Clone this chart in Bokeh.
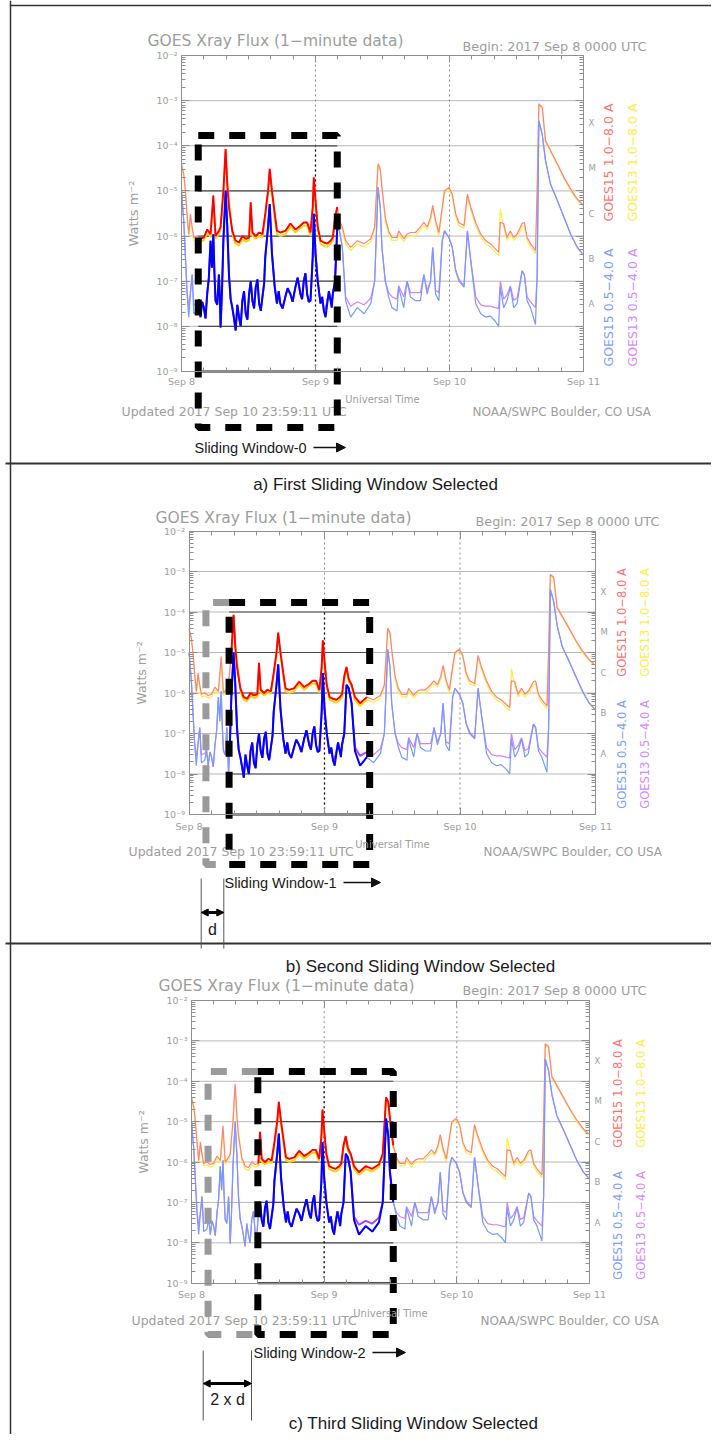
import math
from datetime import datetime, timezone

from bokeh.plotting import figure
from bokeh.models import Range1d, LogScale, LinearAxis, FixedTicker, Arrow, NormalHead
from bokeh.core.properties import value
from bokeh.embed import file_html
from bokeh.resources import INLINE

# ---------------------------------------------------------------- data
# hours after 2017 Sep 8 00:00 UTC (long channel samples)
hours = [0.0, 0.4, 0.7, 1.0, 1.3, 1.6, 1.9, 2.2, 2.8, 3.4,
         4.0, 4.6, 5.2, 5.7, 6.1, 6.7, 7.0, 7.5, 7.9, 8.2,
         8.5, 9.1, 9.7, 10.3, 10.9, 11.5, 12.1, 12.4, 12.7, 13.3,
         13.9, 14.5, 15.0, 15.5, 15.8, 16.2, 16.7, 17.1, 17.7, 18.6,
         19.5, 20.4, 21.3, 21.9, 22.5, 23.1, 23.5, 23.7, 24.0, 24.4,
         24.9, 25.5, 26.1, 26.7, 27.1, 27.5, 27.9, 28.3, 28.8, 29.4,
         30.3, 31.5, 32.7, 33.9, 34.6, 35.2, 35.6, 35.9, 36.5, 37.1,
         37.7, 38.6, 38.9, 39.8, 40.4, 41.0, 41.9, 42.8, 43.4, 44.0,
         44.6, 45.0, 45.5, 46.1, 46.7, 47.1, 47.9, 48.5, 49.1, 49.7,
         50.6, 51.2, 51.8, 52.7, 53.6, 54.5, 55.3, 56.2, 56.8, 57.1,
         57.7, 58.3, 58.9, 59.5, 60.1, 61.0, 61.4, 61.9, 62.5, 63.4,
         63.7, 64.0, 64.6, 65.2, 66.1, 67.3, 68.5, 69.7, 70.9, 71.8]

# GOES15 1.0-8.0 A  (W m^-2)
goes15_long = [3.9e-5, 2.4e-5, 1.0e-5, 3.1e-6, 1.1e-6, 3.1e-6, 1.6e-6, 9.3e-7, 1.0e-6, 8.7e-7,
               9.3e-7, 1.4e-6, 1.1e-6, 7.9e-6, 1.0e-6, 1.3e-6, 1.6e-6, 1.0e-5, 8.5e-5, 1.4e-5,
               4.4e-6, 1.3e-6, 7.9e-7, 7.2e-7, 1.0e-6, 8.7e-7, 9.3e-7, 5.6e-6, 1.2e-6, 1.0e-6,
               1.2e-6, 1.1e-6, 3.1e-6, 1.0e-5, 3.1e-5, 1.0e-5, 3.1e-6, 1.3e-6, 1.2e-6, 1.3e-6,
               1.9e-6, 1.4e-6, 1.7e-6, 2.0e-6, 2.0e-6, 1.2e-6, 4.4e-6, 2.0e-5, 6.2e-6, 1.6e-6,
               7.9e-7, 7.2e-7, 6.8e-7, 7.9e-7, 9.3e-7, 2.6e-6, 4.4e-6, 2.2e-6, 1.6e-6, 7.9e-7,
               5.6e-7, 7.9e-7, 6.8e-7, 8.7e-7, 1.6e-6, 4.0e-5, 3.1e-5, 1.2e-5, 2.6e-6, 1.3e-6,
               9.3e-7, 9.3e-7, 1.3e-6, 8.7e-7, 1.1e-6, 1.2e-6, 1.2e-6, 1.6e-6, 2.0e-6, 1.6e-6,
               2.6e-6, 4.8e-6, 2.2e-6, 1.2e-6, 4.4e-6, 1.0e-5, 1.2e-5, 8.5e-6, 3.1e-6, 2.0e-6,
               1.7e-6, 8.5e-6, 4.4e-6, 2.0e-6, 1.1e-6, 7.9e-7, 6.8e-7, 5.2e-7, 4.4e-7, 2.0e-6,
               1.9e-6, 9.3e-7, 1.3e-6, 9.3e-7, 1.1e-6, 1.9e-6, 2.0e-6, 9.3e-7, 6.8e-7, 4.8e-7,
               1.0e-5, 8.5e-4, 7.2e-4, 1.3e-4, 7.9e-5, 4.0e-5, 2.0e-5, 1.1e-5, 6.6e-6, 5.1e-6]

# GOES13 1.0-8.0 A
goes13_long = [3.5e-5, 2.1e-5, 8.9e-6, 2.6e-6, 9.6e-7, 2.4e-6, 1.4e-6, 8.0e-7, 8.6e-7, 7.5e-7,
               8.0e-7, 1.2e-6, 9.5e-7, 5.5e-6, 8.7e-7, 1.1e-6, 1.4e-6, 9.0e-6, 8.0e-5, 1.5e-5,
               6.0e-6, 1.1e-6, 6.7e-7, 6.2e-7, 8.6e-7, 7.5e-7, 8.0e-7, 4.2e-6, 1.0e-6, 8.7e-7,
               1.0e-6, 9.5e-7, 2.7e-6, 8.9e-6, 2.8e-5, 9.2e-6, 2.7e-6, 1.1e-6, 1.0e-6, 1.1e-6,
               1.6e-6, 1.2e-6, 1.5e-6, 1.7e-6, 1.7e-6, 1.0e-6, 3.8e-6, 1.8e-5, 5.6e-6, 1.4e-6,
               6.7e-7, 6.1e-7, 5.8e-7, 6.7e-7, 8.0e-7, 2.2e-6, 3.9e-6, 1.9e-6, 1.4e-6, 6.7e-7,
               4.8e-7, 6.7e-7, 5.8e-7, 7.5e-7, 1.4e-6, 3.6e-5, 2.8e-5, 1.1e-5, 2.2e-6, 1.1e-6,
               8.0e-7, 8.0e-7, 1.1e-6, 7.5e-7, 9.5e-7, 1.0e-6, 1.0e-6, 1.4e-6, 1.7e-6, 1.4e-6,
               2.2e-6, 4.2e-6, 1.9e-6, 1.0e-6, 3.8e-6, 8.9e-6, 1.1e-5, 7.6e-6, 2.7e-6, 1.7e-6,
               1.5e-6, 7.6e-6, 3.8e-6, 1.7e-6, 9.5e-7, 6.7e-7, 5.8e-7, 4.4e-7, 3.7e-7, 4.0e-6,
               1.6e-6, 8.0e-7, 1.1e-6, 8.0e-7, 9.5e-7, 1.6e-6, 1.7e-6, 8.0e-7, 5.8e-7, 4.1e-7,
               8.9e-6, 8.0e-4, 6.8e-4, 1.2e-4, 7.4e-5, 3.8e-5, 1.9e-5, 1.0e-5, 6.2e-6, 4.8e-6]

# hours of the short channel samples
short_hours = [0.0, 0.4, 0.7, 1.0, 1.3, 1.6, 1.9, 2.2, 2.8, 3.1,
               3.4, 3.7, 4.0, 4.3, 4.6, 4.9, 5.2, 5.45, 5.7, 5.9,
               6.1, 6.4, 6.7, 6.85, 7.0, 7.25, 7.5, 7.9, 8.2, 8.5,
               8.8, 9.1, 9.4, 9.7, 10.0, 10.3, 10.6, 10.9, 11.2, 11.5,
               11.8, 12.1, 12.4, 12.7, 13.0, 13.3, 13.6, 13.9, 14.2, 14.5,
               14.8, 15.0, 15.5, 15.8, 16.2, 16.7, 17.1, 17.4, 17.7, 18.1,
               18.6, 19.0, 19.5, 19.9, 20.4, 20.8, 21.3, 21.6, 21.9, 22.2,
               22.5, 22.8, 23.1, 23.5, 23.7, 24.0, 24.4, 24.9, 25.2, 25.5,
               25.8, 26.1, 26.4, 26.7, 26.9, 27.1, 27.5, 27.9, 28.3, 28.8,
               29.4, 30.3, 31.5, 32.7, 33.9, 34.6, 35.2, 35.6, 35.9, 36.5,
               37.1, 37.7, 38.6, 38.9, 39.8, 40.4, 41.0, 41.9, 42.8, 43.4,
               44.0, 44.6, 45.0, 45.5, 46.1, 46.7, 47.1, 47.9, 48.5, 49.1,
               49.7, 50.6, 51.2, 51.8, 52.7, 53.6, 54.5, 55.3, 56.2, 56.8,
               57.1, 57.7, 58.3, 58.9, 59.5, 60.1, 61.0, 61.4, 61.9, 62.5,
               63.4, 63.7, 64.0, 64.6, 65.2, 66.1, 67.3, 68.5, 69.7, 70.9,
               71.8]

# GOES15 0.5-4.0 A
goes15_short = [1.0e-5, 2.2e-6, 3.4e-7, 5.2e-8, 1.6e-8, 5.2e-8, 1.4e-7, 1.9e-8, 2.2e-8, 4.0e-8,
                1.6e-8, 3.5e-8, 2.6e-8, 1.5e-8, 5.2e-8, 1.2e-7, 7.9e-7, 2.0e-7, 1.1e-6, 1.5e-7,
                3.7e-8, 3.0e-8, 1.4e-7, 5.0e-8, 9.5e-9, 6.0e-8, 7.9e-7, 1.0e-5, 1.6e-6, 1.4e-7,
                4.0e-8, 2.6e-8, 1.5e-8, 8.1e-9, 3.0e-8, 1.6e-8, 1.0e-8, 3.7e-8, 6.0e-8, 1.9e-8,
                1.4e-8, 5.2e-8, 1.0e-7, 3.7e-8, 2.5e-8, 7.4e-8, 1.1e-7, 3.2e-8, 2.2e-8, 4.5e-8,
                9.0e-8, 3.4e-7, 1.6e-6, 5.1e-6, 4.1e-7, 7.4e-8, 3.2e-8, 6.0e-8, 3.2e-8, 2.5e-8,
                4.5e-8, 7.0e-8, 5.2e-8, 3.5e-8, 7.4e-8, 1.2e-7, 5.2e-8, 4.0e-8, 1.0e-7, 1.5e-7,
                5.2e-8, 3.5e-8, 3.7e-8, 3.4e-7, 3.1e-6, 4.1e-7, 1.0e-7, 3.2e-8, 4.5e-8, 2.2e-8,
                1.6e-8, 3.2e-8, 6.0e-8, 3.7e-8, 2.6e-8, 5.2e-8, 1.0e-7, 1.6e-6, 1.3e-6, 5.6e-7,
                3.7e-8, 1.6e-8, 2.6e-8, 1.9e-8, 3.2e-8, 1.0e-7, 1.2e-5, 4.4e-6, 5.6e-7, 1.0e-7,
                4.5e-8, 2.6e-8, 2.2e-8, 7.4e-8, 2.6e-8, 1.0e-7, 4.5e-8, 3.7e-8, 3.7e-8, 1.4e-7,
                5.2e-8, 1.0e-7, 5.6e-7, 5.2e-8, 3.7e-8, 7.9e-7, 1.3e-6, 9.3e-7, 5.6e-7, 1.7e-7,
                1.0e-7, 7.4e-8, 1.3e-6, 2.9e-7, 3.2e-8, 1.9e-8, 1.6e-8, 1.7e-8, 1.3e-8, 1.0e-8,
                7.4e-8, 2.6e-8, 3.7e-8, 7.4e-8, 2.6e-8, 3.2e-8, 1.7e-7, 1.4e-7, 3.7e-8, 2.6e-8,
                1.1e-8, 1.4e-7, 3.6e-4, 1.8e-4, 4.7e-5, 1.4e-5, 6.2e-6, 2.6e-6, 1.1e-6, 5.6e-7,
                4.1e-7]

# GOES13 0.5-4.0 A
goes13_short = [1.0e-5, 2.2e-6, 3.6e-7, 6.0e-8, 2.6e-8, 5.8e-8, 1.4e-7, 3.0e-8, 3.2e-8, 4.0e-8,
                1.6e-8, 3.5e-8, 2.6e-8, 1.5e-8, 5.2e-8, 1.2e-7, 7.9e-7, 2.0e-7, 1.1e-6, 1.5e-7,
                3.7e-8, 3.0e-8, 1.4e-7, 5.0e-8, 9.5e-9, 6.0e-8, 7.9e-7, 1.0e-5, 1.6e-6, 1.4e-7,
                4.0e-8, 2.6e-8, 1.5e-8, 8.1e-9, 3.0e-8, 1.6e-8, 1.0e-8, 3.7e-8, 6.0e-8, 1.9e-8,
                1.4e-8, 5.2e-8, 1.0e-7, 3.7e-8, 2.5e-8, 7.4e-8, 1.1e-7, 3.2e-8, 2.2e-8, 4.5e-8,
                9.0e-8, 3.4e-7, 1.6e-6, 5.1e-6, 4.1e-7, 7.4e-8, 3.2e-8, 6.0e-8, 3.2e-8, 2.5e-8,
                4.5e-8, 7.0e-8, 5.2e-8, 3.5e-8, 7.4e-8, 1.2e-7, 5.2e-8, 4.0e-8, 1.0e-7, 1.5e-7,
                5.2e-8, 3.5e-8, 3.7e-8, 3.4e-7, 3.1e-6, 4.1e-7, 1.0e-7, 3.2e-8, 4.5e-8, 2.2e-8,
                2.4e-8, 3.6e-8, 6.0e-8, 3.9e-8, 3.2e-8, 5.2e-8, 1.0e-7, 1.6e-6, 1.3e-6, 5.6e-7,
                4.5e-8, 2.8e-8, 3.5e-8, 3.0e-8, 4.2e-8, 1.0e-7, 1.2e-5, 4.4e-6, 5.6e-7, 1.0e-7,
                5.6e-8, 4.5e-8, 4.0e-8, 7.9e-8, 4.5e-8, 1.0e-7, 5.6e-8, 5.6e-8, 5.6e-8, 1.4e-7,
                6.3e-8, 1.0e-7, 5.6e-7, 6.3e-8, 5.6e-8, 7.9e-7, 1.3e-6, 9.3e-7, 5.6e-7, 1.8e-7,
                1.1e-7, 7.9e-8, 1.3e-6, 2.9e-7, 4.5e-8, 3.0e-8, 2.8e-8, 2.8e-8, 2.6e-8, 2.5e-8,
                1.0e-7, 4.0e-8, 5.0e-8, 7.9e-8, 3.8e-8, 4.2e-8, 1.7e-7, 1.4e-7, 4.5e-8, 3.5e-8,
                2.6e-8, 1.4e-7, 3.6e-4, 1.8e-4, 4.7e-5, 1.4e-5, 6.2e-6, 2.6e-6, 1.1e-6, 5.6e-7,
                4.1e-7]

day_labels = ["Sep 8", "Sep 9", "Sep 10", "Sep 11"]
decade_values = [1e-9, 1e-8, 1e-7, 1e-6, 1e-5, 1e-4, 1e-3, 1e-2]
decade_labels = ["10\u207b\u2079", "10\u207b\u2078", "10\u207b\u2077", "10\u207b\u2076",
                 "10\u207b\u2075", "10\u207b\u2074", "10\u207b\u00b3", "10\u207b\u00b2"]
grid_values = [1e-8, 1e-7, 1e-6, 1e-5, 1e-4, 1e-3]
window_grid_values = [1e-8, 1e-7, 1e-6, 1e-5, 1e-4]
class_values = [3.16e-8, 3.16e-7, 3.16e-6, 3.16e-5, 3.16e-4]
class_labels = ["A", "B", "C", "M", "X"]

window_hours = [(3.0, 27.9), (7.1, 32.0), (12.0, 36.5)]
window_names = ["Sliding Window-0", "Sliding Window-1", "Sliding Window-2"]
captions = ["a) First Sliding Window Selected", "b) Second Sliding Window Selected",
            "c) Third Sliding Window Selected"]
title_text = "GOES Xray Flux (1\u2212minute data)"
begin_text = "Begin:  2017 Sep 8 0000 UTC"
updated_text = "Updated 2017 Sep 10 23:59:11 UTC"
noaa_text = "NOAA/SWPC Boulder, CO USA"
legend_texts = ["GOES15 1.0\u22128.0 A", "GOES13 1.0\u22128.0 A",
                "GOES15 0.5\u22124.0 A", "GOES13 0.5\u22124.0 A"]

# ---------------------------------------------------------------- layout
W, H = 711, 1434
XMIN, XMAX = 0, W
YMIN, YMAX = 0, H

T0 = datetime(2017, 9, 8, tzinfo=timezone.utc).timestamp() * 1000.0
HOUR = 3600000.0
DAY = 24 * HOUR
T3 = T0 + 3 * DAY


def ms(h):
    return T0 + h * HOUR


panels = [
    dict(x0=181, x3=583, yt=55, yb=371, title=(147, 40), begin=(462, 46),
         updated=(121, 411), noaa=(472, 411), leg=(608, 632, 162, 307, "12.5px"),
         ylab="13px", sep_standoff=4, box=(135, 427), wlabel=(194, 447), warrow=(313, 345),
         caption=(375, 484), marker=None),
    dict(x0=188.5, x3=595, yt=530.5, yb=814, title=(155, 517), begin=(475, 521),
         updated=(128, 851), noaa=(483, 851), leg=(621, 644, 622, 754, "11.5px"),
         ylab="12.5px", sep_standoff=6, box=(602, 864), wlabel=(224, 882), warrow=(343, 380),
         caption=(420, 966),
         marker=dict(xl=200.7, xr=223.3, y0=878, y1=948, ya=912, text="d", lx=212, ly=929)),
    dict(x0=191, x3=589, yt=1000, yb=1282.7, title=(158, 985), begin=(462, 990),
         updated=(131, 1320), noaa=(480, 1320), leg=(617, 640, 1093, 1225, "11.5px"),
         ylab="12.5px", sep_standoff=6, box=(1071, 1334), wlabel=(253, 1352), warrow=(372, 405),
         caption=(413, 1423),
         marker=dict(xl=202.7, xr=251, y0=1350, y1=1420, ya=1383, text="2 x d", lx=227, ly=1399)),
]

FONT = "DejaVu Sans"
CAPF = "Liberation Sans"
GREY = "#9d9d9d"
AXC = "#8f8f8f"

xr, yr, ysc = {}, {}, {}
for i, L in enumerate(panels):
    k = 3 * DAY / (L["x3"] - L["x0"])
    xr[f"t{i}"] = Range1d(T0 + (XMIN - L["x0"]) * k, T0 + (XMAX - L["x0"]) * k)
    d = 7.0 / (L["yb"] - L["yt"])
    yr[f"f{i}"] = Range1d(10 ** (-9 - (YMAX - L["yb"]) * d), 10 ** (-2 + (L["yt"] - YMIN) * d))
    ysc[f"f{i}"] = LogScale()

p = figure(width=W, height=H, x_range=Range1d(XMIN, XMAX), y_range=Range1d(YMAX, YMIN),
           output_backend="svg", toolbar_location=None, x_axis_location=None,
           y_axis_location=None, min_border=0, outline_line_color=None,
           extra_x_ranges=xr, extra_y_ranges=yr, extra_y_scales=ysc)
p.grid.visible = False
p.background_fill_color = "white"
p.border_fill_color = "white"


def txt(x, y, s, size, color=GREY, align="left", font=FONT, angle=0.0, style="normal"):
    p.text(x=[x], y=[y], text=[s], text_font=value(font), text_font_size=size,
           text_color=color, text_align=align, text_baseline="middle", angle=angle,
           text_font_style=style)


# page frame
p.segment(x0=[10, 10, 5, 5], y0=[0, 5, 463, 943], x1=[10, 727, 727, 727], y1=[1434, 5, 463, 943],
          line_color="#333333", line_width=[1.5, 1.5, 2, 2])

minor_log = [m * v for v in decade_values[:-1] for m in (2, 3, 4, 5, 6, 7, 8, 9)]
day_ticks = [T0 + j * DAY for j in range(4)]
minor_time = [T0 + h * HOUR for h in range(4, 72, 4) if h % 24]

series = [
    (hours, goes13_long, "#ffee40", "#ffd200", 1.2, 1.8),
    (hours, goes15_long, "#ff8080", "#ff0000", 1.2, 1.9),
    (short_hours, goes13_short, "#d47eff", "#b040ff", 1.2, 1.9),
    (short_hours, goes15_short, "#769aff", "#0000ff", 1.2, 2.0),
]
legend_colors = ["#ff7070", "#ffec45", "#7d9dff", "#d488ff"]

for i, L in enumerate(panels):
    xn, yn = f"t{i}", f"f{i}"
    g = dict(x_range_name=xn, y_range_name=yn)
    ws_h, we_h = window_hours[i]
    ws, we = ms(ws_h), ms(we_h)

    # grid lines and day separators
    p.segment(x0=[T0] * len(grid_values), x1=[T3] * len(grid_values), y0=grid_values,
              y1=grid_values, line_color="#b9b9b9", line_width=1, **g)
    p.segment(x0=day_ticks[1:3], x1=day_ticks[1:3], y0=[1e-9] * 2, y1=[1e-2] * 2,
              line_color="#8a8a8a", line_dash="2 3", line_width=1, **g)
    # contrast-enhanced window region
    p.segment(x0=[ws] * len(window_grid_values), x1=[we] * len(window_grid_values),
              y0=window_grid_values, y1=window_grid_values, line_color="#4a4a4a",
              line_width=1.2, **g)
    for dt in day_ticks[1:3]:
        if ws < dt < we:
            p.segment(x0=[dt], x1=[dt], y0=[1e-9], y1=[1e-4], line_color="#111111",
                      line_dash="2 3", line_width=1.3, **g)

    # data
    for ts, vs, faded, vivid, wf, wv in series:
        tms = [ms(h) for h in ts]
        p.line(x=tms, y=vs, line_color=faded, line_width=wf, **g)
        inside = [j for j, h in enumerate(ts) if ws_h <= h <= we_h]
        p.line(x=[tms[j] for j in inside], y=[vs[j] for j in inside], line_color=vivid,
               line_width=wv, **g)

    # axes
    tick_style = dict(axis_line_color=AXC, major_tick_line_color=AXC,
                      minor_tick_line_color=AXC, major_label_text_color=GREY,
                      major_label_text_font=FONT, major_label_text_font_size="9.5px")
    left = LinearAxis(fixed_location=T0, bounds=(1e-9, 1e-2),
                      ticker=FixedTicker(ticks=decade_values, minor_ticks=minor_log),
                      major_label_overrides=dict(zip(decade_values, decade_labels)),
                      major_tick_in=8, major_tick_out=0, minor_tick_in=4, minor_tick_out=0,
                      major_label_standoff=4, axis_label="Watts m\u207b\u00b2",
                      axis_label_standoff=13, axis_label_text_font=FONT,
                      axis_label_text_font_size=L["ylab"], axis_label_text_color=GREY,
                      axis_label_text_font_style="normal", **tick_style, **g)
    p.add_layout(left, "left")
    right = LinearAxis(fixed_location=T3, bounds=(1e-9, 1e-2),
                       ticker=FixedTicker(ticks=decade_values, minor_ticks=minor_log),
                       major_tick_in=8, major_tick_out=0, minor_tick_in=4, minor_tick_out=0,
                       **dict(tick_style, major_label_text_color=None), **g)
    p.add_layout(right, "right")
    bottom = LinearAxis(fixed_location=1e-9, bounds=(T0, T3),
                        ticker=FixedTicker(ticks=day_ticks, minor_ticks=minor_time),
                        major_label_overrides=dict(zip(day_ticks, day_labels)),
                        major_tick_in=7, major_tick_out=0, minor_tick_in=4, minor_tick_out=0,
                        major_label_standoff=L["sep_standoff"], axis_label="Universal Time",
                        axis_label_standoff=4, axis_label_text_font=FONT,
                        axis_label_text_font_size="10px", axis_label_text_color=GREY,
                        axis_label_text_font_style="normal", **tick_style, **g)
    p.add_layout(bottom, "below")
    top = LinearAxis(fixed_location=1e-2, bounds=(T0, T3),
                     ticker=FixedTicker(ticks=day_ticks, minor_ticks=minor_time),
                     major_tick_in=7, major_tick_out=0, minor_tick_in=4, minor_tick_out=0,
                     **dict(tick_style, major_label_text_color=None), **g)
    p.add_layout(top, "above")
    # window part of the bottom axis is darker
    p.segment(x0=[ws], x1=[we], y0=[1e-9], y1=[1e-9], line_color="#111111", line_width=2, **g)

    # class letters
    p.text(x=[T3] * 5, y=class_values, text=class_labels, x_offset=5,
           text_font=value(FONT), text_font_size="8.5px", text_color=GREY,
           text_baseline="middle", **g)

    # texts around the plot
    txt(L["title"][0], L["title"][1], title_text, "15.5px")
    txt(L["begin"][0], L["begin"][1], begin_text, "12.8px")
    txt(L["updated"][0], L["updated"][1], updated_text, "12.5px")
    txt(L["noaa"][0], L["noaa"][1], noaa_text, "12px")
    x15, x13, ylong, yshort, lsize = L["leg"]
    for (lx, ly), s, c in zip([(x15, ylong), (x13, ylong), (x15, yshort), (x13, yshort)],
                              legend_texts, legend_colors):
        txt(lx, ly, s, lsize, color=c, align="center", angle=math.pi / 2)

    # sliding window boxes
    top_y, bot_y = L["box"]
    if i > 0:
        g0 = ms(window_hours[0][0])
        p.line(x=[ws, g0, g0, ws], y=[top_y, top_y, bot_y, bot_y], line_color="#9a9a9a",
               line_width=7, line_dash="16 15", x_range_name=xn)
    p.line(x=[ws, we, we, ws, ws], y=[top_y, top_y, bot_y, bot_y, top_y], line_color="black",
           line_width=7, line_dash="16 15", x_range_name=xn)

    # window label with arrow
    txt(L["wlabel"][0], L["wlabel"][1], window_names[i], "14.5px", color="#1a1a1a", font=CAPF)
    p.add_layout(Arrow(x_start=L["warrow"][0], y_start=L["wlabel"][1], x_end=L["warrow"][1],
                       y_end=L["wlabel"][1], line_width=1.5, line_color="#111111",
                       end=NormalHead(size=9, fill_color="#111111", line_color="#111111")))

    # caption
    txt(L["caption"][0], L["caption"][1], captions[i], "17px", color="#1a1a1a",
        align="center", font=CAPF)

    # slide distance marker
    m = L["marker"]
    if m:
        p.segment(x0=[m["xl"], m["xr"]], x1=[m["xl"], m["xr"]], y0=[m["y0"]] * 2,
                  y1=[m["y1"]] * 2, line_color="#555555", line_width=1)
        p.add_layout(Arrow(x_start=m["xl"], y_start=m["ya"], x_end=m["xr"], y_end=m["ya"],
                           line_width=3, line_color="black",
                           start=NormalHead(size=7, fill_color="black", line_color="black"),
                           end=NormalHead(size=7, fill_color="black", line_color="black")))
        txt(m["lx"], m["ly"], m["text"], "16px", color="#1a1a1a", align="center", font=CAPF)

open("out.html", "w").write(file_html(p, INLINE))
